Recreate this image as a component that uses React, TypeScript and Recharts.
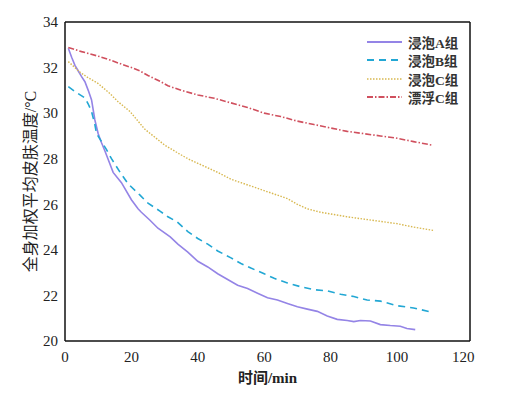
import { LineChart, Line, XAxis, YAxis, Legend } from 'recharts';

// 浸泡A组
const timeA = [1, 2, 3, 4, 5, 6, 7, 8, 9, 10, 11, 12, 14.5, 17, 20, 22, 23, 25.6, 28, 31.7, 34, 37, 40, 43, 46, 49, 52, 55, 58, 61, 64, 67, 70, 73, 76, 79, 82, 85, 87, 89, 92, 95, 98, 101, 103, 105.5];
const tempA = [32.85, 32.45, 32.1, 31.85, 31.6, 31.38, 31.0, 30.58, 29.7, 29.1, 28.7, 28.35, 27.4, 26.95, 26.2, 25.8, 25.65, 25.3, 24.95, 24.57, 24.25, 23.9, 23.5, 23.25, 22.95, 22.7, 22.45, 22.3, 22.1, 21.9, 21.8, 21.65, 21.5, 21.4, 21.3, 21.1, 20.95, 20.9, 20.85, 20.9, 20.88, 20.72, 20.68, 20.65, 20.55, 20.5];

// 浸泡B组
const timeB = [1, 3, 6, 7, 8, 9, 9.5, 11, 12.5, 14, 16.6, 19, 22.6, 25, 28.6, 31, 33.7, 37, 40, 43, 46, 50, 53, 56, 60, 63, 67, 71, 75, 79, 83, 87, 91, 95, 100, 105, 110];
const tempB = [31.16, 30.95, 30.67, 30.4, 30.07, 29.5, 29.1, 28.75, 28.4, 28.0, 27.4, 26.9, 26.4, 26.05, 25.7, 25.45, 25.24, 24.8, 24.5, 24.25, 23.95, 23.65, 23.4, 23.2, 22.95, 22.75, 22.55, 22.38, 22.25, 22.2, 22.05, 21.95, 21.8, 21.75, 21.55, 21.45, 21.28];

// 浸泡C组
const timeC = [1, 3, 4.5, 7, 10, 13.6, 16, 19.6, 22, 24, 27, 30, 34, 37, 40, 43, 46, 50, 53, 56, 60, 63, 67, 70, 73, 77, 81, 85, 90, 95, 100, 105, 111];
const tempC = [32.26, 32.0, 31.8, 31.55, 31.3, 30.85, 30.5, 30.07, 29.65, 29.3, 28.95, 28.6, 28.25, 28.0, 27.8, 27.6, 27.4, 27.1, 26.95, 26.8, 26.6, 26.45, 26.25, 26.0, 25.8, 25.65, 25.55, 25.45, 25.35, 25.25, 25.15, 25.0, 24.85];

// 漂浮C组
const timeD = [1, 5, 10, 13.6, 17, 20, 22.6, 25, 28.6, 31, 35, 40, 45, 50, 55, 60, 65, 70, 75, 80, 85, 90, 95, 100, 105, 110.5];
const tempD = [32.88, 32.7, 32.5, 32.33, 32.15, 32.0, 31.85, 31.65, 31.4, 31.2, 31.0, 30.8, 30.65, 30.45, 30.25, 30.0, 29.85, 29.65, 29.5, 29.35, 29.2, 29.1, 29.0, 28.9, 28.75, 28.6];

const xTicks = [0, 20, 40, 60, 80, 100, 120];
const yTicks = [20, 22, 24, 26, 28, 30, 32, 34];

const toPoints = (ts: number[], vs: number[]) => ts.map((t, i) => ({ t, v: vs[i] }));

const series = [
  { name: '浸泡A组', color: '#9484e6', dash: undefined, width: 1.6, data: toPoints(timeA, tempA) },
  { name: '浸泡B组', color: '#22a7d4', dash: '7 5', width: 1.6, data: toPoints(timeB, tempB) },
  { name: '浸泡C组', color: '#d8b850', dash: '1.5 1.5', width: 1.4, data: toPoints(timeC, tempC) },
  { name: '漂浮C组', color: '#d0505e', dash: '6 2 1.5 2', width: 1.6, data: toPoints(timeD, tempD) },
];

const font = "'Liberation Serif', 'Noto Sans CJK SC', serif";
const tickStyle = { fontSize: 15, fill: '#222', fontFamily: font };

const LegendBox = () => (
  <div style={{ fontFamily: font, fontSize: 13.5, fontWeight: 'bold', color: '#333' }}>
    {series.map((s) => (
      <div key={s.name} style={{ display: 'flex', alignItems: 'center', height: 18.3 }}>
        <svg width={35} height={6} style={{ marginRight: 6 }}>
          <line x1={0} y1={3} x2={35} y2={3} stroke={s.color} strokeWidth={s.width + 0.3} strokeDasharray={s.dash} />
        </svg>
        <span>{s.name}</span>
      </div>
    ))}
  </div>
);

export default function App() {
  return (
    <div style={{ fontFamily: font }}>
      <LineChart width={490} height={380} margin={{ top: 14, right: 28, bottom: 5, left: 0 }}>
        <XAxis
          xAxisId={0}
          type="number"
          dataKey="t"
          domain={[0, 122]}
          ticks={xTicks}
          allowDataOverflow
          tickLine={false}
          tickSize={0}
          tickMargin={10}
          height={42}
          axisLine={{ stroke: '#111', strokeWidth: 1.5 }}
          tick={tickStyle}
          label={{ value: '时间/min', position: 'insideBottom', offset: 0, style: { fontSize: 15, fontWeight: 'bold', fill: '#222', fontFamily: font } }}
        />
        <XAxis xAxisId="bm" type="number" dataKey="t" domain={[0, 122]} ticks={xTicks} allowDataOverflow orientation="bottom" mirror tick={false} axisLine={false} tickSize={5} tickLine={{ stroke: '#111', strokeWidth: 1.5 }} />
        <XAxis xAxisId="top" type="number" dataKey="t" domain={[0, 122]} ticks={xTicks} allowDataOverflow orientation="top" mirror tick={false} tickSize={5} axisLine={{ stroke: '#111', strokeWidth: 1.5 }} tickLine={{ stroke: '#111', strokeWidth: 1.5 }} />
        <YAxis
          yAxisId={0}
          type="number"
          domain={[20, 34]}
          ticks={yTicks}
          allowDataOverflow
          width={57}
          tickLine={false}
          tickSize={0}
          tickMargin={7}
          axisLine={{ stroke: '#111', strokeWidth: 1.5 }}
          tick={tickStyle}
          label={{ value: '全身加权平均皮肤温度/°C', angle: -90, position: 'insideLeft', offset: 22, style: { textAnchor: 'middle', fontSize: 16, fill: '#222', fontFamily: font } }}
        />
        <YAxis yAxisId="lm" type="number" domain={[20, 34]} ticks={yTicks} allowDataOverflow orientation="left" mirror tick={false} axisLine={false} tickSize={5} tickLine={{ stroke: '#111', strokeWidth: 1.5 }} />
        <YAxis yAxisId="right" type="number" domain={[20, 34]} ticks={yTicks} allowDataOverflow orientation="right" mirror tick={false} tickSize={5} axisLine={{ stroke: '#111', strokeWidth: 1.5 }} tickLine={{ stroke: '#111', strokeWidth: 1.5 }} />
        <Legend
          layout="vertical"
          align="center"
          verticalAlign="middle"
          content={() => <LegendBox />}
          wrapperStyle={{ top: 25, left: 359, width: 110 }}
        />
        {series.map((s) => (
          <Line
            key={s.name}
            name={s.name}
            data={s.data}
            dataKey="v"
            type="linear"
            stroke={s.color}
            strokeWidth={s.width}
            strokeDasharray={s.dash}
            dot={false}
            activeDot={false}
            isAnimationActive={false}
          />
        ))}
      </LineChart>
    </div>
  );
}
